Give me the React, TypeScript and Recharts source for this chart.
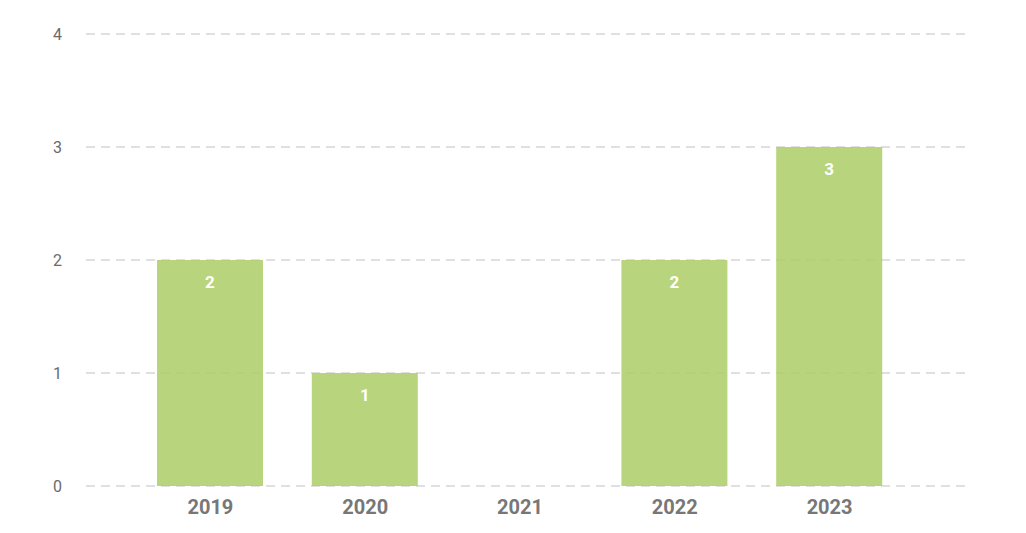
import React from 'react';
import { BarChart, Bar, XAxis, YAxis, CartesianGrid, LabelList } from 'recharts';

const years = ['2019', '2020', '2021', '2022', '2023'];
const counts = [2, 1, 0, 2, 3];
const yTicks = [0, 1, 2, 3, 4];

const data = years.map((y, i) => ({ year: y, count: counts[i] }));

export default function App() {
  return (
    <div style={{ position: 'absolute', left: 0, top: 0, background: '#fff' }}>
      <BarChart
        width={1026}
        height={533}
        data={data}
        margin={{ top: 34, right: 56, bottom: 0, left: 46 }}
      >
        <CartesianGrid
          vertical={false}
          stroke="#e0e0e0"
          strokeWidth={2}
          strokeDasharray="9 6"
        />
        <XAxis
          dataKey="year"
          axisLine={false}
          tickLine={false}
          tickSize={0}
          tickMargin={14}
          height={47}
          padding={{ left: 47, right: 63 }}
          tick={{ fill: '#777777', fontSize: 20, fontWeight: 700, fontFamily: 'Roboto' }}
          interval={0}
        />
        <YAxis
          domain={[0, 4]}
          ticks={yTicks}
          axisLine={false}
          tickLine={false}
          tickSize={0}
          tickMargin={24}
          width={40}
          tick={{ fill: '#6a6a6a', fontSize: 16, fontFamily: 'Roboto' }}
        />
        <Bar
          dataKey="count"
          fill="#accc65"
          fillOpacity={0.85}
          barSize={106}
          isAnimationActive={false}
        >
          <LabelList
            dataKey="count"
            position="insideTop"
            offset={16}
            formatter={(v: any) => (v ? String(v) : '')}
            style={{ fill: '#ffffff', fontSize: 17, fontWeight: 700, fontFamily: 'Roboto' }}
          />
        </Bar>
      </BarChart>
    </div>
  );
}
